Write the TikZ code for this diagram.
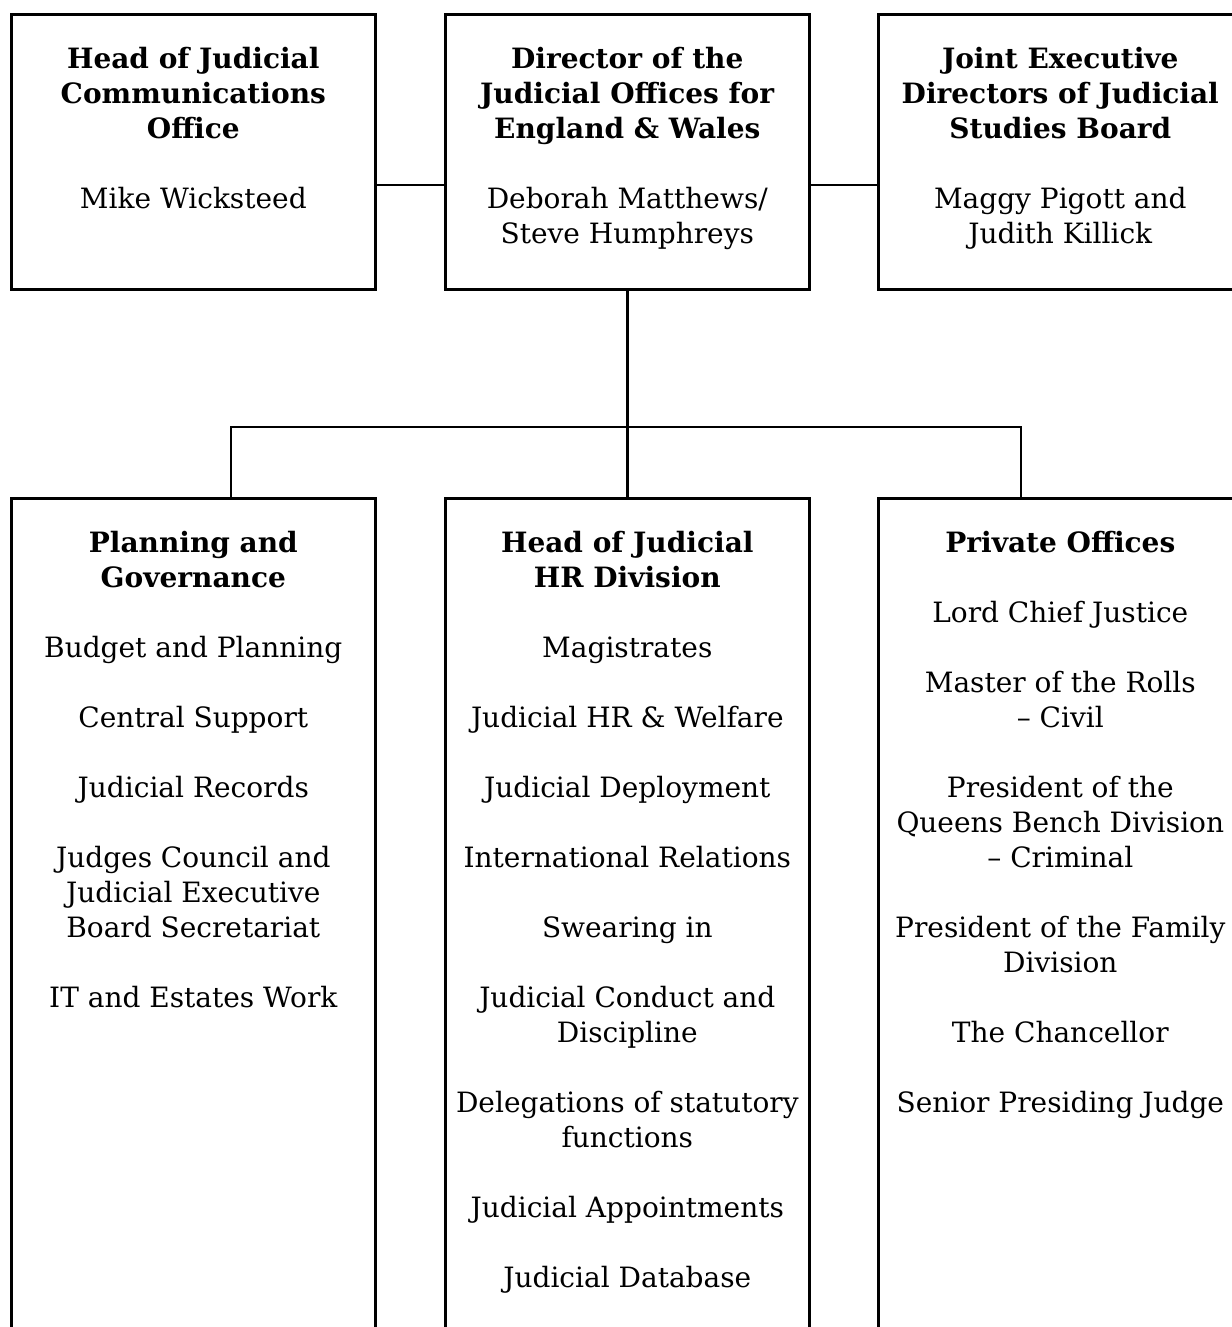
\documentclass[tikz,border=0pt]{standalone}
\usepackage{fontspec}
\setmainfont{DejaVu Serif}
\usetikzlibrary{positioning}
\begin{document}
\begin{tikzpicture}[x=0.5pt,y=-0.5pt,
	unit/.style={draw,line width=1.3pt,anchor=north west,minimum width=182pt,minimum height=137.5pt,inner sep=0pt},
	section/.style={unit,minimum height=421.5pt},
	entry/.style={align=center,inner sep=0pt,font=\fontsize{14pt}{17.5pt}\selectfont},
	link/.style={line width=1.2pt}]
	\useasboundingbox (0,0) rectangle (1231,1327);

	% top row
	\node[unit] (comms) at (10,13) {};
	\node[unit] (director) at (444,13) {};
	\node[unit] (jsb) at (877,13) {};

	\node[entry,below=17pt of comms.north] (commstext) {\textbf{Head of Judicial}\\\textbf{Communications}\\\textbf{Office}\\[17.5pt]Mike Wicksteed};
	\node[entry,below=17pt of director.north] (directortext) {\textbf{Director of the}\\\textbf{Judicial Offices for}\\\textbf{England \& Wales}\\[17.5pt]Deborah Matthews/\\Steve Humphreys};
	\node[entry,below=17pt of jsb.north] (jsbtext) {\textbf{Joint Executive}\\\textbf{Directors of Judicial}\\\textbf{Studies Board}\\[17.5pt]Maggy Pigott and\\Judith Killick};

	% bottom row
	\node[section] (planning) at (10,497) {};
	\node[section] (hr) at (444,497) {};
	\node[section] (private) at (877,497) {};

	\node[entry,below=17pt of planning.north] (planningtext) {\textbf{Planning and}\\\textbf{Governance}\\[17.5pt]Budget and Planning\\[17.5pt]Central Support\\[17.5pt]Judicial Records\\[17.5pt]Judges Council and\\Judicial Executive\\Board Secretariat\\[17.5pt]IT and Estates Work};
	\node[entry,below=17pt of hr.north] (hrtext) {\textbf{Head of Judicial}\\\textbf{HR Division}\\[17.5pt]Magistrates\\[17.5pt]Judicial HR \& Welfare\\[17.5pt]Judicial Deployment\\[17.5pt]International Relations\\[17.5pt]Swearing in\\[17.5pt]Judicial Conduct and\\Discipline\\[17.5pt]Delegations of statutory\\functions\\[17.5pt]Judicial Appointments\\[17.5pt]Judicial Database};
	\node[entry,below=17pt of private.north] (privatetext) {\textbf{Private Offices}\\[17.5pt]Lord Chief Justice\\[17.5pt]Master of the Rolls\\-- Civil\\[17.5pt]President of the\\Queens Bench Division\\-- Criminal\\[17.5pt]President of the Family\\Division\\[17.5pt]The Chancellor\\[17.5pt]Senior Presiding Judge};

	% connectors
	\coordinate (side) at (0,185);
	\coordinate (busleft) at (231,427);
	\coordinate (busright) at (1021,427);
	\draw[link] (comms.east |- side) -- (director.west |- side);
	\draw[link] (director.east |- side) -- (jsb.west |- side);
	\draw[link] (director.south) -- (hr.north);
	\draw[link,line cap=rect] (busleft) -- (busright);
	\draw[link] (busleft) -- (busleft |- planning.north);
	\draw[link] (busright) -- (busright |- private.north);
\end{tikzpicture}
\end{document}
